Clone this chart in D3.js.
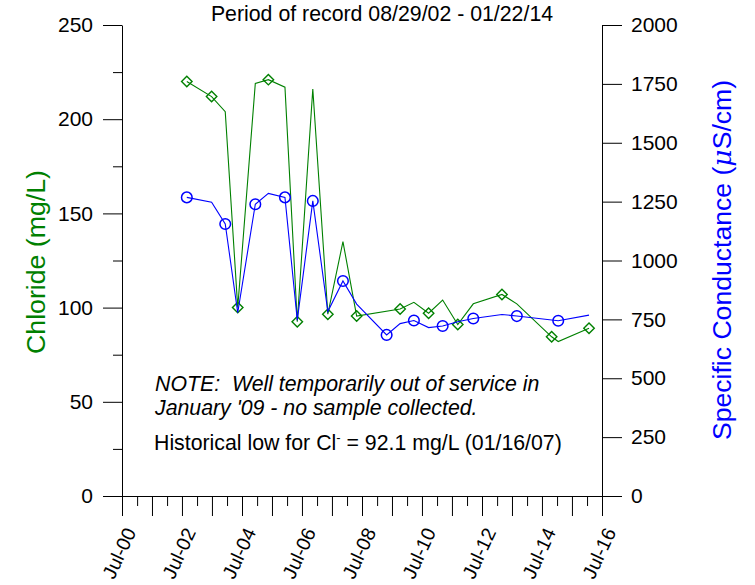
<!DOCTYPE html>
<html><head><meta charset="utf-8">
<script src="https://cdn.jsdelivr.net/npm/d3@7"></script>
<style>
body{margin:0;background:#fff;}
svg{display:block;font-family:"Liberation Sans",Arial,sans-serif;}
</style></head>
<body><svg id="c" width="755" height="585"></svg>
<script>
// ---- data ----
const chlorideDates = ["2002-08-29","2003-06-27","2003-12-10","2004-05-10","2004-12-10","2005-05-18","2005-12-06","2006-05-05","2006-11-10","2007-05-12","2007-11-12","2008-04-27","2009-10-08","2010-03-25","2010-09-20","2011-03-10","2011-09-10","2012-03-17","2013-03-01","2013-08-29","2014-10-27","2015-01-15","2016-01-25"];
const chlorideValues = [220,212,204,100,219,221,217,92.5,216,96.5,135,95.5,99.3,102.8,97,104,91,102,107,102,84.5,82,89];
const chlorideMarked = [1,1,0,1,0,1,0,1,0,1,0,1,1,0,1,0,1,0,1,0,1,0,1];

const condDates = ["2002-08-29","2003-06-27","2003-12-10","2004-05-10","2004-12-10","2005-05-18","2005-12-06","2006-05-05","2006-11-10","2007-05-12","2007-11-12","2008-04-27","2009-04-27","2009-10-08","2010-03-25","2010-09-20","2011-03-10","2011-09-10","2012-03-17","2013-03-01","2013-08-29","2015-01-15","2016-01-25"];
const condValues = [1268,1247,1155,778,1239,1285,1268,747,1253,783,913,815,684,732,745,715,722,740,754,771,764,744,768];
const condMarked = [1,0,1,0,1,0,1,0,1,0,1,0,1,0,1,0,1,0,1,0,1,1,0];

const leftTicks = [0,50,100,150,200,250];
const leftMinorTicks = [25,75,125,175,225];
const rightTicks = [0,250,500,750,1000,1250,1500,1750,2000];
const xDomainDates = ["2000-07-01","2016-07-01"];

const titleText = "Period of record 08/29/02 - 01/22/14";
const leftTitle = "Chloride (mg/L)";
const noteLines = ["NOTE:\u00a0 Well temporarily out of service in","January '09 - no sample collected."];

// ---- chart ----
const parse = d3.timeParse("%Y-%m-%d");
const svg = d3.select("#c");
const GREEN = "#008000", BLUE = "#0000ff";
const FS = 21.3;

const x = d3.scaleTime().domain(xDomainDates.map(parse)).range([122, 602]);
const yL = d3.scaleLinear().domain([0, 250]).range([496, 25]);
const yR = d3.scaleLinear().domain([0, 2000]).range([496, 25]);

const chloride = chlorideDates.map((d, i) => ({date: parse(d), v: chlorideValues[i], m: chlorideMarked[i]}));
const cond = condDates.map((d, i) => ({date: parse(d), v: condValues[i], m: condMarked[i]}));

function styleAxis(g) {
  g.selectAll("path,line").attr("stroke", "#000").attr("stroke-width", 1);
  g.selectAll("text").attr("font-size", 21).attr("fill", "#000").attr("font-family", "Liberation Sans, Arial, sans-serif");
}

// left axis
svg.append("g").attr("transform", "translate(122,0)")
  .call(d3.axisLeft(yL).tickValues(leftMinorTicks).tickSize(9).tickSizeOuter(0).tickFormat(""))
  .call(g => g.select(".domain").remove())
  .call(styleAxis);
svg.append("g").attr("transform", "translate(122,0)")
  .call(d3.axisLeft(yL).tickValues(leftTicks).tickSize(19).tickSizeOuter(0).tickPadding(10).tickFormat(d3.format("d")))
  .call(styleAxis);

// right axis
svg.append("g").attr("transform", "translate(602,0)")
  .call(d3.axisRight(yR).tickValues(rightTicks).tickSize(20).tickSizeOuter(0).tickPadding(9).tickFormat(d3.format("d")))
  .call(styleAxis);

// bottom axis
const t0 = x.domain()[0], t1 = x.domain()[1];
const majorTicks = d3.range(t0.getFullYear(), t1.getFullYear() + 1).map(y => new Date(y, 6, 1));
const minorTicks = d3.range(t0.getFullYear() + 1, t1.getFullYear() + 1).map(y => new Date(y, 0, 1));
svg.append("g").attr("transform", "translate(0,496)")
  .call(d3.axisBottom(x).tickValues(minorTicks).tickSize(10).tickSizeOuter(0).tickFormat(""))
  .call(g => g.select(".domain").remove())
  .call(styleAxis);
const fmt = d3.timeFormat("%b-%y");
svg.append("g").attr("transform", "translate(0,496)")
  .call(d3.axisBottom(x).tickValues(majorTicks).tickSize(20).tickSizeOuter(0)
        .tickFormat(d => (d.getFullYear() % 2 === 0 ? fmt(d) : "")))
  .call(styleAxis)
  .call(g => g.selectAll(".tick text")
     .attr("font-size", 19.5)
     .attr("text-anchor", "end").attr("x", 0).attr("y", 0).attr("dy", 0)
     .attr("transform", "translate(14,36) rotate(-65)"));

// lines
const lineL = d3.line().x(d => x(d.date)).y(d => yL(d.v));
const lineR = d3.line().x(d => x(d.date)).y(d => yR(d.v));

svg.append("path").datum(chloride).attr("d", lineL).attr("fill", "none").attr("stroke", GREEN).attr("stroke-width", 1.1);
svg.append("g").selectAll("path").data(chloride.filter(d => d.m)).join("path")
  .attr("d", d3.symbol(d3.symbolDiamond2, 70))
  .attr("transform", d => `translate(${x(d.date)},${yL(d.v)})`)
  .attr("fill", "none").attr("stroke", GREEN).attr("stroke-width", 1.4);

svg.append("path").datum(cond).attr("d", lineR).attr("fill", "none").attr("stroke", BLUE).attr("stroke-width", 1.1);
svg.append("g").selectAll("circle").data(cond.filter(d => d.m)).join("circle")
  .attr("cx", d => x(d.date)).attr("cy", d => yR(d.v)).attr("r", 5.3)
  .attr("fill", "none").attr("stroke", BLUE).attr("stroke-width", 1.5);

// texts
svg.append("text").attr("x", 382).attr("y", 21).attr("text-anchor", "middle")
  .attr("font-size", FS).text(titleText);

svg.append("text").attr("transform", "translate(45,262) rotate(-90)").attr("text-anchor", "middle")
  .attr("font-size", 26.7).attr("fill", GREEN).text(leftTitle);

const rt = svg.append("text").attr("transform", "translate(731,260) rotate(-90)").attr("text-anchor", "middle")
  .attr("font-size", 26.6).attr("fill", BLUE);
rt.append("tspan").text("Specific Conductance (");
rt.append("tspan").attr("font-family", "DejaVu Serif").attr("font-style", "italic").attr("font-weight", 200).text("\u03bc");
rt.append("tspan").text("S/cm)");

const note = svg.append("text").attr("font-size", FS).attr("font-style", "italic");
noteLines.forEach((l, i) => note.append("tspan").attr("x", 155).attr("y", 391 + i * 24).text(l));

const hl = svg.append("text").attr("x", 154).attr("y", 450).attr("font-size", FS);
hl.append("tspan").text("Historical low for Cl");
hl.append("tspan").attr("dy", -8).attr("font-size", 13).text("-");
hl.append("tspan").attr("dy", 8).text(" = 92.1 mg/L (01/16/07)");
</script></body></html>
